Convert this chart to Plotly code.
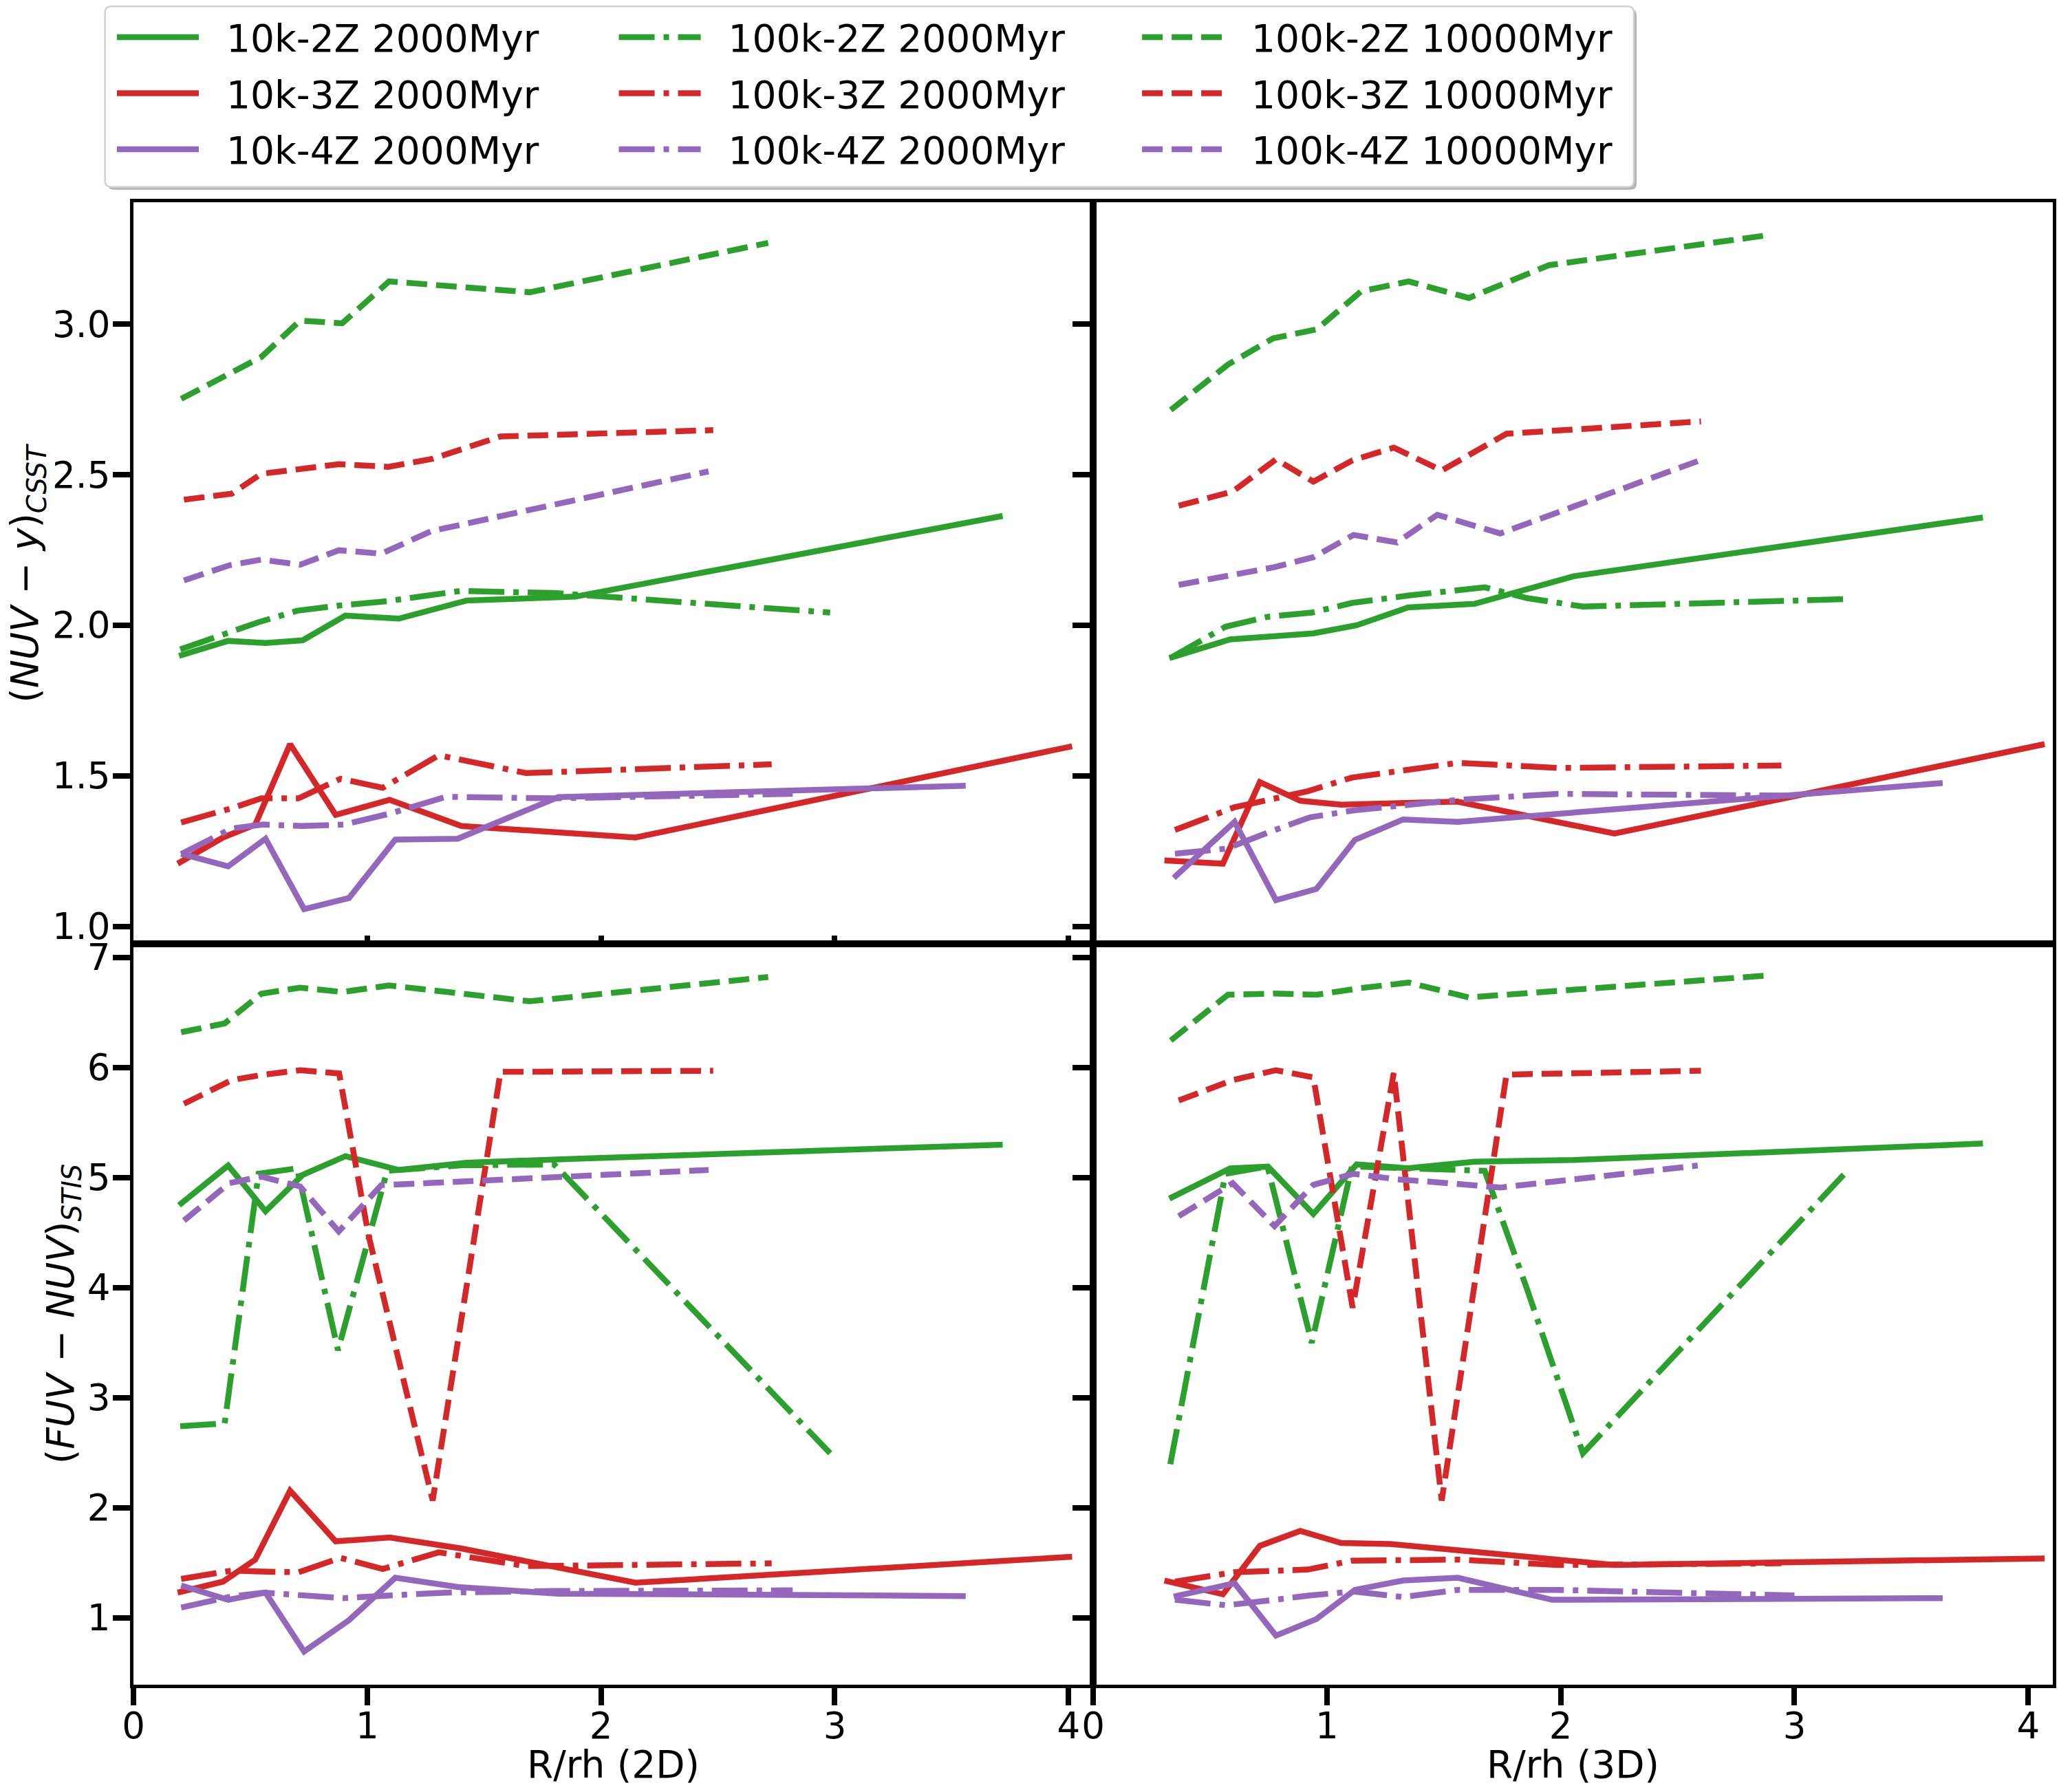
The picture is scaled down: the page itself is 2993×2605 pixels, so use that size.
import plotly.graph_objects as go

# radial bins, R/rh (2D)
X2D_10K_2Z = [0.195, 0.405, 0.565, 0.724, 0.907, 1.135, 1.426, 1.89, 3.718]
X2D_10K_3Z = [0.189, 0.383, 0.521, 0.67, 0.865, 1.096, 1.403, 2.147, 4.015]
X2D_10K_4Z = [0.204, 0.405, 0.565, 0.73, 0.922, 1.12, 1.387, 1.817, 3.56]
X2D_100K_2Z_2G = [0.2, 0.39, 0.535, 0.70, 0.875, 1.085, 1.40, 1.80, 2.98]
X2D_100K_3Z_2G = [0.204, 0.42, 0.547, 0.706, 0.886, 1.066, 1.306, 1.68, 2.73]
X2D_100K_4Z_2G = [0.204, 0.42, 0.556, 0.72, 0.9, 1.10, 1.336, 1.80, 2.82]
X2D_100K_2Z_10G = [0.204, 0.39, 0.547, 0.713, 0.893, 1.093, 1.695, 2.715]
X2D_100K_3Z_10G = [0.216, 0.42, 0.547, 0.713, 0.88, 1.005, 1.09, 1.28, 1.57, 2.48]
X2D_100K_4Z_10G = [0.216, 0.41, 0.547, 0.713, 0.878, 1.06, 1.276, 2.46]

# radial bins, R/rh (3D)
X3D_10K_2Z = [0.326, 0.586, 0.748, 0.942, 1.127, 1.347, 1.631, 2.056, 3.806]
X3D_10K_3Z = [0.305, 0.555, 0.713, 0.886, 1.061, 1.273, 1.558, 2.23, 4.07]
X3D_10K_4Z = [0.345, 0.605, 0.782, 0.955, 1.12, 1.326, 1.56, 1.963, 3.634]
X3D_100K_2Z_2G = [0.33, 0.566, 0.746, 0.935, 1.107, 1.353, 1.675, 1.857, 2.095, 3.236]
X3D_100K_3Z_2G = [0.35, 0.603, 0.919, 1.107, 1.561, 1.989, 2.944]
X3D_100K_4Z_2G = [0.35, 0.57, 0.76, 0.928, 1.114, 1.326, 1.56, 1.989, 3.0]
X3D_100K_2Z_10G = [0.332, 0.577, 0.77, 0.957, 1.146, 1.35, 1.607, 1.95, 2.89]
X3D_100K_3Z_10G = [0.366, 0.597, 0.782, 0.942, 1.11, 1.286, 1.491, 1.768, 2.6]
X3D_100K_4Z_10G = [0.366, 0.597, 0.776, 0.942, 1.114, 1.3, 1.472, 1.741, 2.586]

# (NUV - y)_CSST, 2D
NUV2D_10K_2Z = [1.898, 1.948, 1.941, 1.950, 2.032, 2.022, 2.082, 2.095, 2.363]
NUV2D_10K_3Z = [1.208, 1.295, 1.338, 1.605, 1.37, 1.42, 1.333, 1.295, 1.598]
NUV2D_10K_4Z = [1.241, 1.199, 1.291, 1.057, 1.094, 1.288, 1.291, 1.429, 1.467]
NUV2D_100K_2Z_2G = [1.92, 1.97, 2.01, 2.048, 2.065, 2.08, 2.114, 2.107, 2.042]
NUV2D_100K_3Z_2G = [1.345, 1.392, 1.425, 1.425, 1.49, 1.46, 1.568, 1.509, 1.538]
NUV2D_100K_4Z_2G = [1.24, 1.325, 1.338, 1.333, 1.338, 1.375, 1.43, 1.425, 1.44]
NUV2D_100K_2Z_10G = [2.752, 2.83, 2.891, 3.012, 3.003, 3.142, 3.106, 3.27]
NUV2D_100K_3Z_10G = [2.417, 2.437, 2.503, 2.52, 2.535, 2.53, 2.526, 2.553, 2.627, 2.648]
NUV2D_100K_4Z_10G = [2.149, 2.199, 2.218, 2.201, 2.249, 2.238, 2.313, 2.511]

# (NUV - y)_CSST, 3D
NUV3D_10K_2Z = [1.891, 1.953, 1.962, 1.973, 2.0, 2.059, 2.071, 2.163, 2.358]
NUV3D_10K_3Z = [1.219, 1.208, 1.479, 1.417, 1.404, 1.408, 1.414, 1.308, 1.605]
NUV3D_10K_4Z = [1.161, 1.347, 1.087, 1.124, 1.287, 1.355, 1.347, 1.372, 1.476]
NUV3D_100K_2Z_2G = [1.891, 1.995, 2.028, 2.042, 2.074, 2.099, 2.126, 2.09, 2.062, 2.087]
NUV3D_100K_3Z_2G = [1.32, 1.395, 1.449, 1.494, 1.543, 1.526, 1.534]
NUV3D_100K_4Z_2G = [1.241, 1.258, 1.315, 1.362, 1.385, 1.40, 1.42, 1.44, 1.434]
NUV3D_100K_2Z_10G = [2.715, 2.866, 2.953, 2.983, 3.109, 3.142, 3.087, 3.196, 3.296]
NUV3D_100K_3Z_10G = [2.397, 2.444, 2.551, 2.477, 2.548, 2.590, 2.514, 2.636, 2.677]
NUV3D_100K_4Z_10G = [2.134, 2.168, 2.193, 2.226, 2.30, 2.275, 2.367, 2.305, 2.545]

# (FUV - NUV)_STIS, 2D
FUV2D_10K_2Z = [4.748, 5.108, 4.693, 5.023, 5.193, 5.068, 5.133, 5.17, 5.298]
FUV2D_10K_3Z = [1.229, 1.329, 1.529, 2.155, 1.695, 1.73, 1.63, 1.319, 1.555]
FUV2D_10K_4Z = [1.294, 1.164, 1.229, 0.694, 0.979, 1.364, 1.28, 1.22, 1.198]
FUV2D_100K_2Z_2G = [2.741, 2.766, 5.033, 5.083, 3.43, 5.06, 5.11, 5.118, 2.495]
FUV2D_100K_3Z_2G = [1.354, 1.429, 1.42, 1.414, 1.545, 1.444, 1.595, 1.47, 1.495]
FUV2D_100K_4Z_2G = [1.094, 1.194, 1.229, 1.20, 1.179, 1.204, 1.229, 1.244, 1.25]
FUV2D_100K_2Z_10G = [6.319, 6.399, 6.669, 6.724, 6.684, 6.744, 6.60, 6.82]
FUV2D_100K_3Z_10G = [5.669, 5.884, 5.93, 5.974, 5.944, 4.479, 3.733, 2.066, 5.959, 5.969]
FUV2D_100K_4Z_10G = [4.608, 4.948, 5.008, 4.918, 4.509, 4.93, 4.95, 5.068]

# (FUV - NUV)_STIS, 3D
FUV3D_10K_2Z = [4.808, 5.083, 5.098, 4.668, 5.118, 5.083, 5.143, 5.158, 5.308]
FUV3D_10K_3Z = [1.339, 1.214, 1.654, 1.79, 1.68, 1.67, 1.615, 1.48, 1.54]
FUV3D_10K_4Z = [1.194, 1.314, 0.839, 0.989, 1.254, 1.339, 1.364, 1.164, 1.179]
FUV3D_100K_2Z_2G = [2.395, 5.033, 5.10, 3.497, 5.10, 5.08, 5.06, 3.98, 2.495, 5.083]
FUV3D_100K_3Z_2G = [1.329, 1.414, 1.439, 1.519, 1.529, 1.48, 1.495]
FUV3D_100K_4Z_2G = [1.164, 1.114, 1.16, 1.204, 1.239, 1.189, 1.254, 1.254, 1.204]
FUV3D_100K_2Z_10G = [6.244, 6.66, 6.67, 6.66, 6.72, 6.77, 6.635, 6.687, 6.835]
FUV3D_100K_3Z_10G = [5.699, 5.884, 5.974, 5.909, 3.817, 5.949, 2.065, 5.934, 5.969]
FUV3D_100K_4Z_10G = [4.648, 4.948, 4.558, 4.933, 5.033, 4.983, 4.956, 4.908, 5.108]

LABELS = ["10k-2Z 2000Myr", "10k-3Z 2000Myr", "10k-4Z 2000Myr",
          "100k-2Z 2000Myr", "100k-3Z 2000Myr", "100k-4Z 2000Myr",
          "100k-2Z 10000Myr", "100k-3Z 10000Myr", "100k-4Z 10000Myr"]

GREEN, RED, PURPLE = "#2ca02c", "#d62728", "#9467bd"
COLORS = [GREEN, RED, PURPLE] * 3
DASHES = ["solid"] * 3 + ["52px,13px,8px,13px"] * 3 + ["30px,13px"] * 3
LEGENDS = ["legend"] * 3 + ["legend2"] * 3 + ["legend3"] * 3

X2D = [X2D_10K_2Z, X2D_10K_3Z, X2D_10K_4Z, X2D_100K_2Z_2G, X2D_100K_3Z_2G,
       X2D_100K_4Z_2G, X2D_100K_2Z_10G, X2D_100K_3Z_10G, X2D_100K_4Z_10G]
X3D = [X3D_10K_2Z, X3D_10K_3Z, X3D_10K_4Z, X3D_100K_2Z_2G, X3D_100K_3Z_2G,
       X3D_100K_4Z_2G, X3D_100K_2Z_10G, X3D_100K_3Z_10G, X3D_100K_4Z_10G]
NUV2D = [NUV2D_10K_2Z, NUV2D_10K_3Z, NUV2D_10K_4Z, NUV2D_100K_2Z_2G, NUV2D_100K_3Z_2G,
         NUV2D_100K_4Z_2G, NUV2D_100K_2Z_10G, NUV2D_100K_3Z_10G, NUV2D_100K_4Z_10G]
NUV3D = [NUV3D_10K_2Z, NUV3D_10K_3Z, NUV3D_10K_4Z, NUV3D_100K_2Z_2G, NUV3D_100K_3Z_2G,
         NUV3D_100K_4Z_2G, NUV3D_100K_2Z_10G, NUV3D_100K_3Z_10G, NUV3D_100K_4Z_10G]
FUV2D = [FUV2D_10K_2Z, FUV2D_10K_3Z, FUV2D_10K_4Z, FUV2D_100K_2Z_2G, FUV2D_100K_3Z_2G,
         FUV2D_100K_4Z_2G, FUV2D_100K_2Z_10G, FUV2D_100K_3Z_10G, FUV2D_100K_4Z_10G]
FUV3D = [FUV3D_10K_2Z, FUV3D_10K_3Z, FUV3D_10K_4Z, FUV3D_100K_2Z_2G, FUV3D_100K_3Z_2G,
         FUV3D_100K_4Z_2G, FUV3D_100K_2Z_10G, FUV3D_100K_3Z_10G, FUV3D_100K_4Z_10G]

FONT = "DejaVu Sans"
W, H = 2993, 2605
ML, MR, MT, MB = 194, 9, 294, 156

fig = go.Figure()

panels = [("x", "y", X2D, NUV2D), ("x2", "y2", X3D, NUV3D),
          ("x3", "y3", X2D, FUV2D), ("x4", "y4", X3D, FUV3D)]
for p, (xa, ya, xs, ys) in enumerate(panels):
    for i in range(9):
        fig.add_trace(go.Scatter(
            x=xs[i], y=ys[i], mode="lines", xaxis=xa, yaxis=ya,
            name="\u00a0\u00a0" + LABELS[i],
            line=dict(color=COLORS[i], width=8.5, dash=DASHES[i]),
            showlegend=(p == 0), legend=LEGENDS[i], legendgroup=LABELS[i],
        ))

axis_common = dict(showline=True, linecolor="black", linewidth=5, mirror=True,
                   showgrid=False, zeroline=False, tickcolor="black", tickwidth=8,
                   tickfont=dict(family=FONT, size=53, color="black"))
XR = [0, 4.105]
YR_TOP = [0.943, 3.405]
YR_BOT = [0.393, 7.125]
xt = dict(tickvals=[0, 1, 2, 3, 4], range=XR)
title_font = dict(family=FONT, size=55, color="black")

fig.update_layout(
    xaxis=dict(domain=[0, 0.5], anchor="y", ticks="inside", ticklen=12,
               showticklabels=False, **xt, **axis_common),
    xaxis2=dict(domain=[0.5, 1], anchor="y2", ticks="", showticklabels=False,
                **xt, **axis_common),
    xaxis3=dict(domain=[0, 0.5], anchor="y3", ticks="outside", ticklen=25,
                ticklabelstandoff=-16, **xt, **axis_common),
    xaxis4=dict(domain=[0.5, 1], anchor="y4", ticks="outside", ticklen=25,
                ticklabelstandoff=-16, **xt, **axis_common),
    yaxis=dict(domain=[0.5, 1], anchor="x", range=YR_TOP, ticks="outside", ticklen=25,
               tickvals=[1.0, 1.5, 2.0, 2.5, 3.0], tickformat=".1f", ticklabelstandoff=-7,
               **axis_common),
    yaxis2=dict(domain=[0.5, 1], anchor="x2", range=YR_TOP, ticks="outside", ticklen=25,
                tickvals=[1.0, 1.5, 2.0, 2.5, 3.0], showticklabels=False, **axis_common),
    yaxis3=dict(domain=[0, 0.5], anchor="x3", range=YR_BOT, ticks="outside", ticklen=25,
                tickvals=[1, 2, 3, 4, 5, 6, 7], ticklabelstandoff=-7, **axis_common),
    yaxis4=dict(domain=[0, 0.5], anchor="x4", range=YR_BOT, ticks="outside", ticklen=25,
                tickvals=[1, 2, 3, 4, 5, 6, 7], showticklabels=False, **axis_common),
)

# axis titles as paper annotations
for xc, txt in [(0.25, "R/rh (2D)"), (0.75, "R/rh (3D)")]:
    fig.add_annotation(text=txt, xref="paper", yref="paper", x=xc, y=-0.0538,
                       xanchor="center", yanchor="middle", showarrow=False,
                       font=title_font)
for xc, yc, txt in [(-0.0552, 0.75, "(<i>NUV</i> \u2212 <i>y</i>)<sub><i>CSST</i></sub>"),
                    (-0.0366, 0.25, "(<i>FUV</i> \u2212 <i>NUV</i>)<sub><i>STIS</i></sub>")]:
    fig.add_annotation(text=txt, xref="paper", yref="paper", x=xc, y=yc, textangle=-90,
                       xanchor="center", yanchor="middle", showarrow=False,
                       font=title_font)

# legend: three columns, each a separate legend inside one framed box
leg_common = dict(xanchor="left", yanchor="top", y=1.131, bgcolor="rgba(0,0,0,0)",
                  borderwidth=0, itemwidth=119, tracegroupgap=7, traceorder="grouped",
                  font=dict(family=FONT, size=55, color="black"))
fig.update_layout(
    legend=dict(x=-0.0104, **leg_common),
    legend2=dict(x=0.2511, **leg_common),
    legend3=dict(x=0.5237, **leg_common),
)


def rounded_box(x0, y0, x1, y1, r_px):
    rx = r_px / (W - ML - MR)
    ry = r_px / (H - MT - MB)
    return (f"M {x0 + rx},{y0} L {x1 - rx},{y0} Q {x1},{y0} {x1},{y0 + ry} "
            f"L {x1},{y1 - ry} Q {x1},{y1} {x1 - rx},{y1} L {x0 + rx},{y1} "
            f"Q {x0},{y1} {x0},{y1 - ry} L {x0},{y0 + ry} Q {x0},{y0} {x0 + rx},{y0} Z")


# rounded legend frame with a soft shadow (paper coordinates)
bx0, by0, bx1, by1 = -0.01484, 1.01035, 0.78172, 1.13211
sx, sy = 4 / (W - ML - MR), 4 / (H - MT - MB)
fig.add_shape(type="path", xref="paper", yref="paper",
              path=rounded_box(bx0 + sx, by0 - sy, bx1 + sx, by1 - sy, 9),
              fillcolor="#b5b5b5", line=dict(width=0), layer="above")
fig.add_shape(type="path", xref="paper", yref="paper",
              path=rounded_box(bx0, by0, bx1, by1, 9),
              fillcolor="white", line=dict(color="#d0d0d0", width=2.5), layer="above")

fig.update_layout(
    width=W, height=H,
    margin=dict(l=ML, r=MR, t=MT, b=MB, autoexpand=False),
    paper_bgcolor="white", plot_bgcolor="white",
    font=dict(family=FONT, size=53, color="black"),
)

fig.write_html("out.html", config={"displayModeBar": False},
               post_script="document.body.style.margin='0';document.body.style.overflow='hidden';")
